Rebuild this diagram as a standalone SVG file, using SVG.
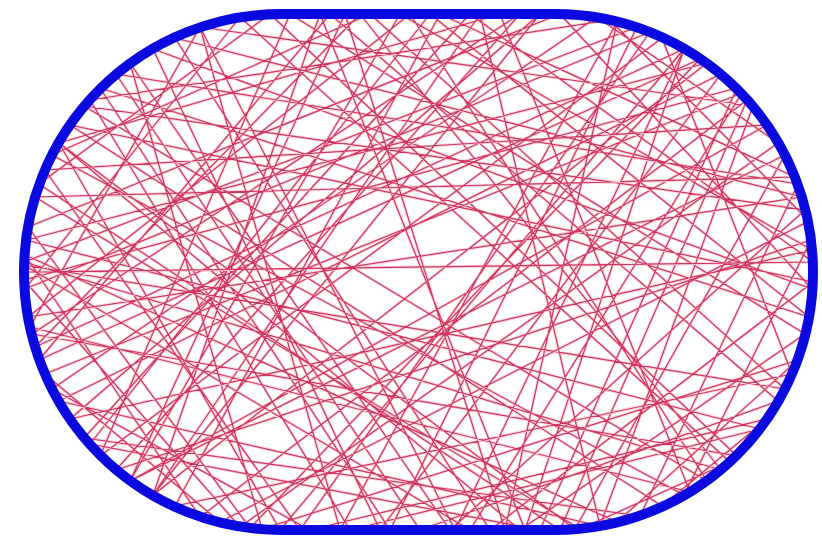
<svg xmlns="http://www.w3.org/2000/svg" width="822" height="540" viewBox="0 0 822 540">
<style>
.halo{fill:none;stroke:#f4a6bc;stroke-width:3.2;stroke-opacity:0.45;stroke-linejoin:round}
.ray{fill:none;stroke:#c81848;stroke-width:1.2;stroke-opacity:0.85;stroke-linejoin:round}
.wall{fill:none;stroke:#0a0ae0;stroke-width:10}
</style>
<defs>
<path id="traj" d="M24,272 L813,262 L470,14 L84,438 L640,516 L798,184 L116,74 L420,530 L778,401 L330,14 L39,360 L700,59 L250,528 L28,227 L560,14 L812,289 L153,49 L380,530 L721,74 L59,401 L600,526 L753,106 L200,27 L30,327 L690,492 L500,14 L59,143 L520,530 L805,334 L290,14 L100,456 L662,38 L792,374 L175,506 L440,14 L795,177 L35,197 L580,529 L730,462 L240,17 L25,289 L650,32 L300,530 L45,170 L767,125 L130,481 L400,14 L812,250 L70,419 L540,14 L153,495 L707,63 L26,240 L760,429 L350,530 L90,100 L610,20 L809,221 L220,522 L45,374 L742,93 L470,530 L24,265 L785,389 L370,14 L52,155 L684,495 L811,240 L116,470 L520,14 L32,334 L737,456 L270,14 L39,184 L560,530 L747,100 L200,517 L25,255 L617,522 L798,360 L262,529 L130,63 L450,530 L805,210 L84,106 L707,481 L410,14 L28,317 L802,197 L175,38 L490,530 L813,282 L70,125 L662,506 L767,419 L310,530 L52,389 L597,17 L778,143 L240,527 L24,280 L737,88 L540,530 L90,444 L430,14 L809,317 L100,88 L390,530 L637,27 L24,262 L721,470 L360,14 L35,347 L684,49 L280,530 L59,143 L575,529 L785,155 L130,481 L345,14 L505,530 L617,22 L340,530 L200,27 L455,530 L684,49 L525,530 L320,14 L153,495 L480,14 L600,526"/>
</defs>
<rect width="822" height="540" fill="#ffffff"/>
<g id="trajectory">
<use href="#traj" class="halo"/>
<use href="#traj" class="ray"/>
</g>
<g id="stadium">
<path class="wall" d="M282,14 L555,14 A258,258 0 0 1 555,530 L282,530 A258,258 0 0 1 282,14 Z"/>
</g>
</svg>
